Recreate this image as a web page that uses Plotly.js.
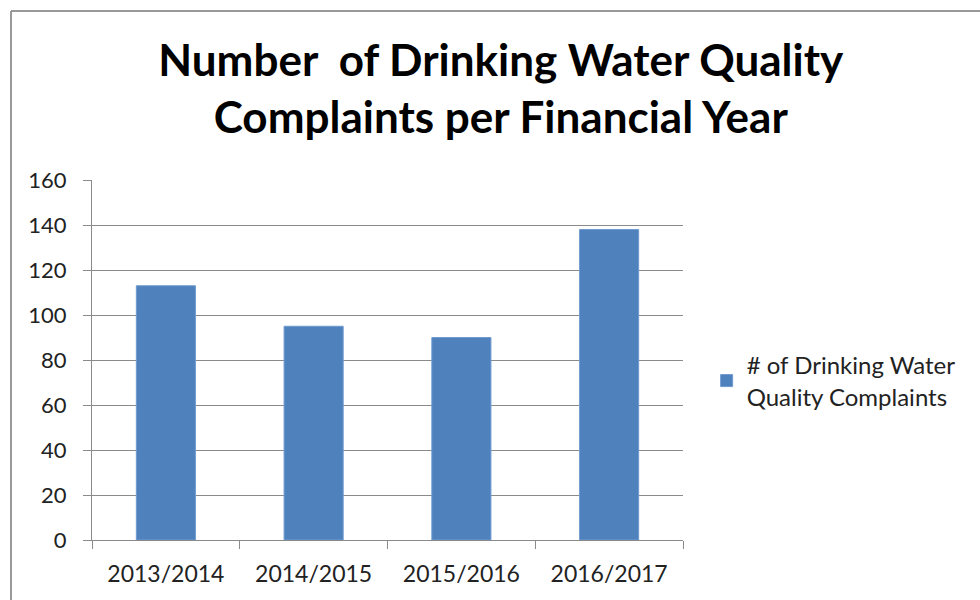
<!DOCTYPE html>
<html>
<head>
<meta charset="utf-8">
<script src="https://cdn.plot.ly/plotly-3.0.1.min.js"></script>
<style>
html,body{margin:0;padding:0;background:#fff;}
#chart{width:980px;height:600px;}
</style>
</head>
<body>
<div id="chart"></div>
<script>
var categories = ["2013/2014", "2014/2015", "2015/2016", "2016/2017"];
var complaints = [113, 95, 90, 138];
var seriesName = "# of Drinking Water<br>Quality Complaints";
var yTicks = [0, 20, 40, 60, 80, 100, 120, 140, 160];
var chartTitle = "Number  of Drinking Water Quality<br>Complaints per Financial Year";

var FONT = "Lato, 'Open Sans', sans-serif";
var GRID = "#8a8a8a";

var trace = {
  type: "bar",
  x: categories,
  y: complaints,
  name: seriesName,
  showlegend: true,
  marker: {color: "#4F81BD", line: {color: "#6f9bd0", width: 1}},
  hoverinfo: "x+y"
};

var layout = {
  width: 980,
  height: 600,
  paper_bgcolor: "#ffffff",
  plot_bgcolor: "#ffffff",
  margin: {l: 92, r: 297, t: 180, b: 60},
  font: {family: FONT, color: "#222222", size: 22},
  title: {
    text: chartTitle,
    font: {family: FONT, size: 44, color: "#000000", weight: "bold"},
    xref: "container", x: 0.511, xanchor: "center",
    yref: "container", y: 0.874, yanchor: "middle"
  },
  bargap: 0.6,
  xaxis: {
    type: "category",
    showline: true, linecolor: GRID, linewidth: 1,
    ticks: "outside", tickson: "boundaries", ticklen: 8, tickcolor: GRID, tickwidth: 1,
    ticklabelstandoff: 13,
    tickfont: {family: FONT, size: 23, color: "#222222"},
    showgrid: false, zeroline: false, fixedrange: true
  },
  yaxis: {
    range: [0, 160],
    tickvals: yTicks,
    showline: true, linecolor: GRID, linewidth: 1,
    ticks: "outside", ticklen: 8, tickcolor: GRID, tickwidth: 1,
    ticklabelstandoff: 12,
    tickfont: {family: FONT, size: 22, color: "#222222"},
    showgrid: true, gridcolor: GRID, gridwidth: 1,
    zeroline: false, fixedrange: true
  },
  legend: {
    x: 1.040, xanchor: "left",
    y: 0.442, yanchor: "middle",
    font: {family: FONT, size: 24, color: "#222222"},
    bgcolor: "rgba(0,0,0,0)"
  },
  shapes: [
    {type: "line", xref: "paper", yref: "paper",
     x0: (11 - 92) / 591, x1: (990 - 92) / 591, y0: (540 - 11) / 360, y1: (540 - 11) / 360,
     line: {color: "#999999", width: 2}},
    {type: "line", xref: "paper", yref: "paper",
     x0: (11 - 92) / 591, x1: (11 - 92) / 591, y0: (540 - 11) / 360, y1: (540 - 610) / 360,
     line: {color: "#999999", width: 2}}
  ]
};

Plotly.newPlot("chart", [trace], layout, {displayModeBar: false, staticPlot: true});
</script>
</body>
</html>
